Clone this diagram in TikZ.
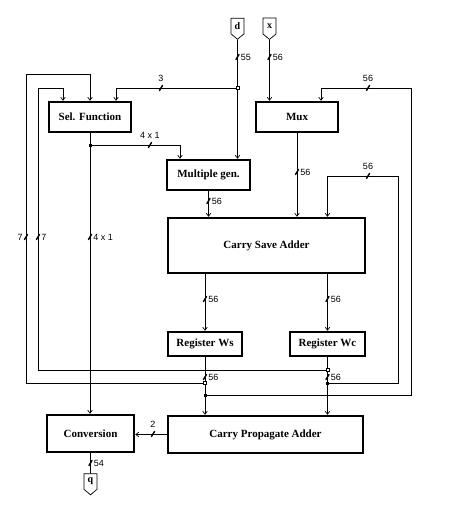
\documentclass[tikz,border=0pt]{standalone}
\usepackage{fontspec}
\setmainfont{Liberation Serif}
\newfontfamily\lblfont{Liberation Sans}
\usetikzlibrary{arrows.meta,shapes.symbols}
\tikzset{
  blk/.style={draw,line width=2.4pt,inner sep=0pt,font=\fontsize{11}{13}\selectfont\bfseries},
  port/.style={draw,line width=0.7pt,signal,signal to=south,signal pointer angle=100,minimum width=13pt,minimum height=18pt,inner sep=0pt,font=\fontsize{10}{12}\selectfont\bfseries},
  lbl/.style={inner sep=0pt,font=\lblfont\fontsize{9}{11}\selectfont},
  busline/.style={line width=1.4pt,line cap=round},
  jdot/.style={draw,fill=black,minimum size=2.4pt,inner sep=0pt,line width=0.5pt},
  jbox/.style={draw,fill=white,minimum size=2.8pt,inner sep=0pt,line width=0.5pt},
  pics/busr/.style={code={\draw[busline] (-1.5,2.5) -- (1.5,-2.5); \node[lbl,right=3pt] (-t) at (0,0) {#1};}},
  pics/busl/.style={code={\draw[busline] (-1.5,2.5) -- (1.5,-2.5); \node[lbl,left=3pt] (-t) at (0,0) {#1};}},
  pics/busa/.style={code={\draw[busline] (-1.5,2.5) -- (1.5,-2.5); \node[lbl,above=6pt] (-t) at (0,0) {#1};}},
}
\begin{document}
\begin{tikzpicture}[x=1pt,y=-1pt,line width=0.7pt,>={Straight Barb[length=3pt,width=4.5pt]}]
	\useasboundingbox (0,0) rectangle (459,519);
	\node[blk,minimum width=82pt,minimum height=30pt] (sel) at (90,117) {Sel. Function};
	\node[blk,minimum width=82pt,minimum height=30pt] (mux) at (297,117) {Mux};
	\node[blk,minimum width=83pt,minimum height=30pt] (mult) at (208.5,175) {Multiple gen.};
	\node[blk,minimum width=197pt,minimum height=55pt] (csa) at (266.5,245.5) {Carry Save Adder};
	\node[blk,minimum width=74pt,minimum height=24pt] (ws) at (205,344) {Register Ws};
	\node[blk,minimum width=75pt,minimum height=24pt] (wc) at (327.5,344) {Register Wc};
	\node[blk,minimum width=87pt,minimum height=37pt] (conv) at (90.5,433.5) {Conversion};
	\node[blk,minimum width=195pt,minimum height=37pt] (cpa) at (265.5,434.5) {Carry Propagate Adder};
	\node[port] (d) at (237.5,26) {d};
	\node[port] (x) at (269.5,26) {x};
	\node[port] (q) at (90.5,481.5) {q};
	\coordinate (jd) at (237.5,88);
	\coordinate (js) at (90,145);
	\coordinate (jw1) at (205,383);
	\coordinate (jw2) at (205,395);
	\coordinate (jc1) at (327.5,370);
	\coordinate (jc2) at (327.5,383);
	\draw[->] (d) -- (d |- mult.north);
	\draw[->] (x) -- (x |- mux.north);
	\draw[->] (jd) -| ([xshift=26pt]sel.north);
	\draw[->] (sel) -- (sel |- conv.north);
	\draw[->] (js) -| ([xshift=-28.5pt]mult.north);
	\draw[->] (mux) -- (mux |- csa.north);
	\draw[->] (mult) -- (mult |- csa.north);
	\draw[->] (ws |- csa.south) -- (ws);
	\draw[->] (wc |- csa.south) -- (wc);
	\draw[->] (ws) -- (ws |- cpa.north);
	\draw[->] (wc) -- (wc |- cpa.north);
	\draw[->] (jw1) -- (26,383) -- (26,74) -| (sel.north);
	\draw[->] (jc1) -- (38,370) -- (38,88) -| ([xshift=-27pt]sel.north);
	\draw[->] (jc2) -- (398,383) -- (398,176) -| (wc |- csa.north);
	\draw[->] (jw2) -- (411,395) -- (411,88) -| ([xshift=24pt]mux.north);
	\draw[->] (cpa.west) -- (cpa.west -| conv.east);
	\draw (conv.south -| q) -- (q);
	\pic (b1) at (237.5,57) {busr=55};
	\pic (b2) at (269.5,57) {busr=56};
	\pic (b3) at (161,88) {busa=3};
	\pic (b4) at (368,88) {busa=56};
	\pic (b5) at (150,145) {busa=4 x 1};
	\pic (b6) at (26,237) {busl=7};
	\pic (b7) at (38,237) {busr=7};
	\pic (b8) at (90,237) {busr=4 x 1};
	\pic (b9) at (297,172) {busr=56};
	\pic (b10) at (368,176) {busa=56};
	\pic (b11) at (208.5,201) {busr=56};
	\pic (b12) at (205,299) {busr=56};
	\pic (b13) at (327.5,299) {busr=56};
	\pic (b14) at (205,377) {busr=56};
	\pic (b15) at (327.5,377) {busr=56};
	\pic (b16) at (153,434) {busa=2};
	\pic (b17) at (90.5,463) {busr=54};
	\node[jbox] (mjd) at (jd) {};
	\node[jdot] (mjs) at (js) {};
	\node[jbox] (mjw1) at (jw1) {};
	\node[jdot] (mjw2) at (jw2) {};
	\node[jbox] (mjc1) at (jc1) {};
	\node[jdot] (mjc2) at (jc2) {};
\end{tikzpicture}
\end{document}
